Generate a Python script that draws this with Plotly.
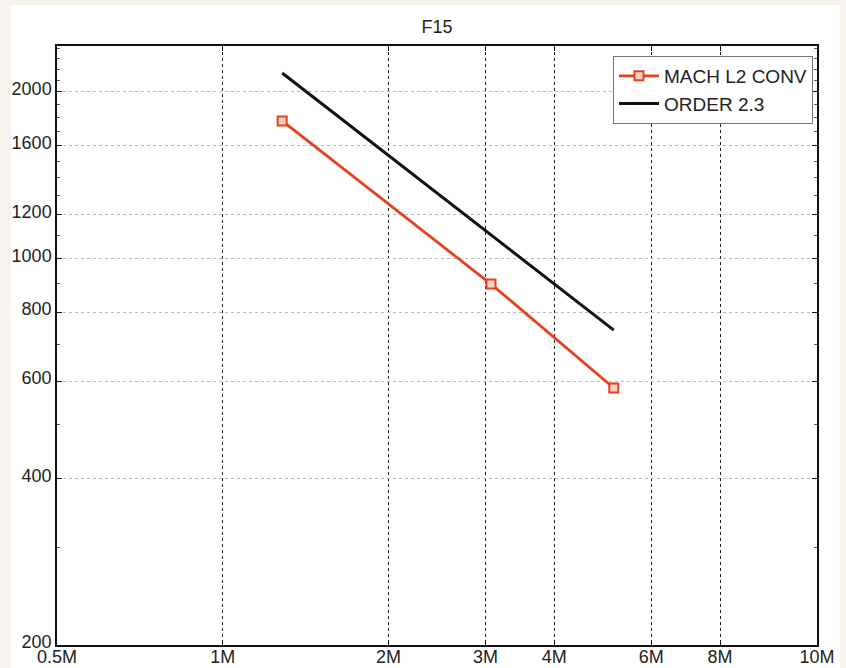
import plotly.graph_objects as go

# ---- data ----
dofs = [1.282e6, 3.07e6, 5.13e6]
mach_l2_conv = [1773, 899, 583]
order_x = [1.282e6, 5.13e6]
order_y = [2164, 742]

x_tickvals = [0.5e6, 1e6, 2e6, 3e6, 4e6, 6e6, 8e6, 12e6]
x_ticktext = ["0.5M", "1M", "2M", "3M", "4M", "6M", "8M", "10M"]
y_tickvals = [200, 400, 600, 800, 1000, 1200, 1600, 2000]
y_ticktext = ["200", "400", "600", "800", "1000", "1200", "1600", "2000"]
y_minor = list(range(300, 2500, 100))

RED = "#e8401c"
FONT = "Liberation Sans, Arial, sans-serif"
FS = 18

fig = go.Figure()
fig.add_trace(go.Scatter(
    x=dofs, y=mach_l2_conv, mode="lines+markers", name="MACH L2 CONV",
    line=dict(color=RED, width=2.8),
    marker=dict(symbol="square", size=9, color="#fbd3c6",
                line=dict(color=RED, width=2)),
))
fig.add_trace(go.Scatter(
    x=order_x, y=order_y, mode="lines", name="ORDER 2.3",
    line=dict(color="#111111", width=3),
))

L, R, T, B = 57, 29, 46, 23
W, H = 846, 668
pw, ph = W - L - R, H - T - B

def px2paper_x(px):
    return (px - L) / pw

def px2paper_y(py):
    return (H - B - py) / ph

fig.add_shape(type="rect", xref="paper", yref="paper",
              x0=px2paper_x(11), x1=px2paper_x(840),
              y0=px2paper_y(668), y1=px2paper_y(5),
              fillcolor="white", line=dict(width=0), layer="below")

fig.update_layout(
    width=W, height=H,
    margin=dict(l=L, r=R, t=T, b=B, pad=0, autoexpand=False),
    paper_bgcolor="#f7f3ec",
    plot_bgcolor="white",
    font=dict(family=FONT, size=FS, color="#222222"),
    title=dict(text="F15", x=px2paper_x(437), xref="paper", xanchor="center",
               y=1 - 27 / H, yanchor="middle", automargin=False,
               font=dict(family=FONT, size=FS, color="#222222")),
    showlegend=True,
    legend=dict(x=px2paper_x(813), y=px2paper_y(56), xanchor="right", yanchor="top",
                bgcolor="white", bordercolor="#777777", borderwidth=1,
                font=dict(family=FONT, size=19, color="#222222"),
                tracegroupgap=0, itemwidth=40),
)

fig.update_xaxes(
    type="log", range=[5.69897, 7.07918], automargin=False,
    tickmode="array", tickvals=x_tickvals, ticktext=x_ticktext,
    ticks="inside", ticklen=5, tickcolor="#111111", ticklabelstandoff=-5,
    showline=True, linecolor="#111111", linewidth=1.5, mirror="ticks",
    showgrid=True, gridcolor="#222222", griddash="dot", gridwidth=1.2,
    zeroline=False, tickfont=dict(size=FS, family=FONT, color="#222222"),
)
fig.update_yaxes(
    type="log", range=[2.30103, 3.38417], automargin=False,
    tickmode="array", tickvals=y_tickvals, ticktext=y_ticktext,
    ticks="inside", ticklen=5, tickcolor="#111111", ticklabelshift=-3,
    showline=True, linecolor="#111111", linewidth=1.5, mirror="ticks",
    showgrid=True, gridcolor="#bbbbbb", griddash="dot", gridwidth=1,
    zeroline=False, tickfont=dict(size=FS, family=FONT, color="#222222"),
    minor=dict(tickvals=y_minor, ticks="inside", ticklen=3, tickcolor="#555555",
               showgrid=False),
)

fig.write_html("out.html", config={"displayModeBar": False},
               post_script="document.body.style.margin='0';document.body.style.overflow='hidden';")
